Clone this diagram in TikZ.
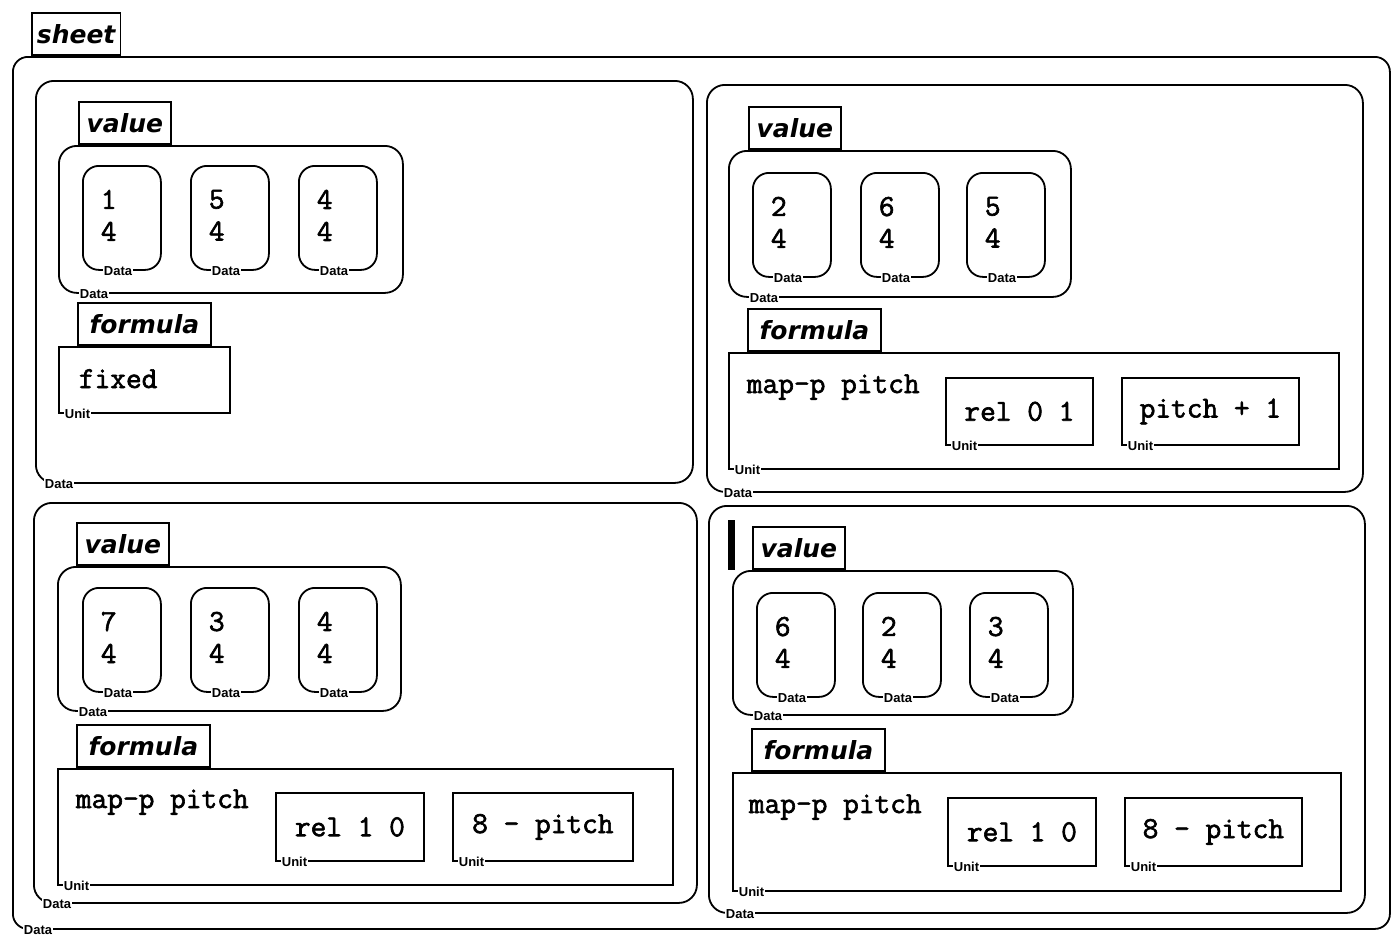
\documentclass[tikz,border=0pt]{standalone}
\usepackage{fontspec}
\setmainfont{Liberation Serif}
\newfontfamily\codefam{Latin Modern Mono}[FakeBold=2]
\newfontfamily\tagfam{DejaVu Sans}[BoldItalicFont={DejaVu Sans Bold Oblique}]
\newfontfamily\lblfam{Liberation Sans}
\newcommand\codefont{\codefam\fontsize{30.5}{32}\selectfont}
\newcommand\tagfont{\tagfam\bfseries\itshape\fontsize{25}{30}\selectfont}
\newcommand\lblfont{\lblfam\bfseries\fontsize{13}{13}\selectfont}
\usetikzlibrary{positioning}

\begin{document}
\begin{tikzpicture}[
  x=1pt, y=-1pt,
  line width=1.8pt,
  box/.style={draw, inner sep=0pt, anchor=north west},
  rbox/.style={box, rounded corners=18pt},
  cell/.style={box, rounded corners=16pt, minimum width=78pt, minimum height=104pt},
  unitbox/.style={box, font=\codefont},
  tag/.style={draw, anchor=south west, inner xsep=5pt, inner ysep=0pt, minimum height=42pt, font=\tagfont},
  valtag/.style={tag, minimum width=92pt},
  formtag/.style={tag, minimum width=133pt},
  code/.style={font=\codefont, inner sep=0pt, anchor=base west},
  nums/.style={font=\codefont, inner sep=0pt, anchor=north west, align=left},
  lbl/.style={fill=white, font=\lblfont, inner xsep=1pt, inner ysep=0pt, anchor=west},
]
\useasboundingbox (0,0) rectangle (1392,935);

% Sheet
\node[rbox, rounded corners=15pt, minimum width=1377pt, minimum height=872pt] (sheet) at (12,56) {};
\node[tag] (sheettag) at ([xshift=19pt]sheet.north west) {sheet};
\node[lbl] at ([xshift=10pt]sheet.south west) {Data};

% Panel 1 (top left)
\node[rbox, minimum width=657pt, minimum height=402pt] (p1) at (35,80) {};
\node[lbl] at ([xshift=8pt]p1.south west) {Data};
\node[rbox, minimum width=344pt, minimum height=147pt] (p1v) at (58,145) {};
\node[valtag] (p1vtag) at ([xshift=20pt]p1v.north west) {value};
\node[lbl] at ([xshift=20pt]p1v.south west) {Data};
\foreach \n/\x/\a/\b in {1/82/1/4, 2/190/5/4, 3/298/4/4}{
  \node[cell] (p1c\n) at (\x,165) {};
  \node[nums] at ([xshift=18pt, yshift=-24pt]p1c\n.north west) {\a\\\b};
  \node[lbl] at ([xshift=20pt]p1c\n.south west) {Data};
}
\node[box, minimum width=171pt, minimum height=66pt] (p1f) at (58,346) {};
\node[formtag] (p1ftag) at ([xshift=19pt]p1f.north west) {formula};
\node[code] (p1fx) at (78,388) {fixed};
\node[lbl] at ([xshift=5pt]p1f.south west) {Unit};

% Panel 2 (top right)
\node[rbox, minimum width=656pt, minimum height=407pt] (p2) at (706,84) {};
\node[lbl] at ([xshift=16pt]p2.south west) {Data};
\node[rbox, minimum width=342pt, minimum height=146pt] (p2v) at (728,150) {};
\node[valtag] (p2vtag) at ([xshift=20pt]p2v.north west) {value};
\node[lbl] at ([xshift=20pt]p2v.south west) {Data};
\foreach \n/\x/\a/\b in {1/752/2/4, 2/860/6/4, 3/966/5/4}{
  \node[cell] (p2c\n) at (\x,172) {};
  \node[nums] at ([xshift=18pt, yshift=-24pt]p2c\n.north west) {\a\\\b};
  \node[lbl] at ([xshift=20pt]p2c\n.south west) {Data};
}
\node[box, minimum width=610pt, minimum height=116pt] (p2f) at (728,352) {};
\node[formtag] (p2ftag) at ([xshift=19pt]p2f.north west) {formula};
\node[code] (p2fx) at (746,393) {map-p pitch};
\node[lbl] at ([xshift=5pt]p2f.south west) {Unit};
\node[unitbox, minimum width=147pt, minimum height=67pt] (p2u1) at (945,377) {rel 0 1};
\node[lbl] at ([xshift=5pt]p2u1.south west) {Unit};
\node[unitbox, minimum width=177pt, minimum height=67pt] (p2u2) at (1121,377) {pitch + 1};
\node[lbl] at ([xshift=5pt]p2u2.south west) {Unit};

% Panel 3 (bottom left)
\node[rbox, minimum width=663pt, minimum height=400pt] (p3) at (33,502) {};
\node[lbl] at ([xshift=8pt]p3.south west) {Data};
\node[rbox, minimum width=343pt, minimum height=144pt] (p3v) at (57,566) {};
\node[valtag] (p3vtag) at ([xshift=19pt]p3v.north west) {value};
\node[lbl] at ([xshift=20pt]p3v.south west) {Data};
\foreach \n/\x/\a/\b in {1/82/7/4, 2/190/3/4, 3/298/4/4}{
  \node[cell] (p3c\n) at (\x,587) {};
  \node[nums] at ([xshift=18pt, yshift=-24pt]p3c\n.north west) {\a\\\b};
  \node[lbl] at ([xshift=20pt]p3c\n.south west) {Data};
}
\node[box, minimum width=615pt, minimum height=116pt] (p3f) at (57,768) {};
\node[formtag] (p3ftag) at ([xshift=19pt]p3f.north west) {formula};
\node[code] (p3fx) at (75,808) {map-p pitch};
\node[lbl] at ([xshift=5pt]p3f.south west) {Unit};
\node[unitbox, minimum width=148pt, minimum height=68pt] (p3u1) at (275,792) {rel 1 0};
\node[lbl] at ([xshift=5pt]p3u1.south west) {Unit};
\node[unitbox, minimum width=180pt, minimum height=68pt] (p3u2) at (452,792) {8 - pitch};
\node[lbl] at ([xshift=5pt]p3u2.south west) {Unit};

% Panel 4 (bottom right)
\node[rbox, minimum width=656pt, minimum height=407pt] (p4) at (708,505) {};
\node[lbl] at ([xshift=16pt]p4.south west) {Data};
\fill (728,520) rectangle (735,570);
\node[rbox, minimum width=340pt, minimum height=144pt] (p4v) at (732,570) {};
\node[valtag] (p4vtag) at ([xshift=20pt]p4v.north west) {value};
\node[lbl] at ([xshift=20pt]p4v.south west) {Data};
\foreach \n/\x/\a/\b in {1/756/6/4, 2/862/2/4, 3/969/3/4}{
  \node[cell] (p4c\n) at (\x,592) {};
  \node[nums] at ([xshift=18pt, yshift=-24pt]p4c\n.north west) {\a\\\b};
  \node[lbl] at ([xshift=20pt]p4c\n.south west) {Data};
}
\node[box, minimum width=608pt, minimum height=118pt] (p4f) at (732,772) {};
\node[formtag] (p4ftag) at ([xshift=19pt]p4f.north west) {formula};
\node[code] (p4fx) at (748,813) {map-p pitch};
\node[lbl] at ([xshift=5pt]p4f.south west) {Unit};
\node[unitbox, minimum width=148pt, minimum height=68pt] (p4u1) at (947,797) {rel 1 0};
\node[lbl] at ([xshift=5pt]p4u1.south west) {Unit};
\node[unitbox, minimum width=177pt, minimum height=68pt] (p4u2) at (1124,797) {8 - pitch};
\node[lbl] at ([xshift=5pt]p4u2.south west) {Unit};
\end{tikzpicture}
\end{document}
